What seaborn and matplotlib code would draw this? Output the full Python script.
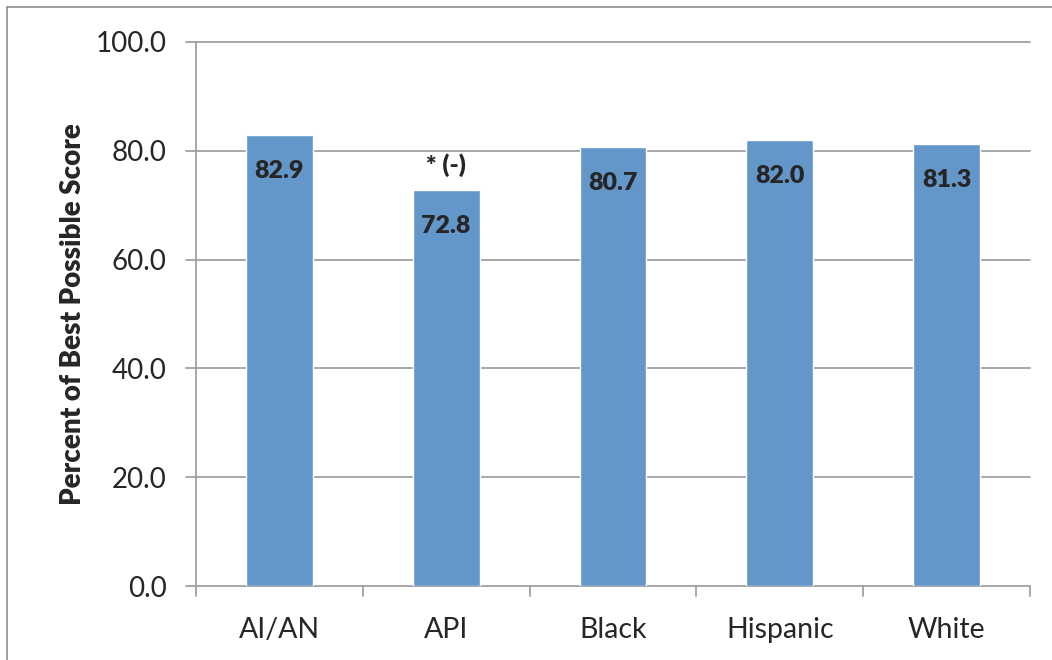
import matplotlib
matplotlib.use("Agg")
from matplotlib import pyplot as plt
from matplotlib.patches import Rectangle
import seaborn as sns
import pandas as pd

# datos
grupos = ["AI/AN", "API", "Black", "Hispanic", "White"]
valores = [82.9, 72.8, 80.7, 82.0, 81.3]
notas = ["", "* (-)", "", "", ""]

df = pd.DataFrame({"grupo": grupos, "valor": valores})

sns.set_style("white")
plt.rcParams['font.family'] = ['Lato', 'DejaVu Sans']

fig = plt.figure(figsize=(10.52, 6.6), dpi=100)
ax = fig.add_axes([0.1863, 0.1121, 0.7927, 0.8243])

sns.barplot(data=df, x="grupo", y="valor", color="#6497C9", width=0.4,
            saturation=1, ax=ax, zorder=3)

ax.set_ylim(0, 100)
ax.set_xlim(-0.5, len(grupos) - 0.5)
ax.set_yticks([0, 20, 40, 60, 80, 100])
ax.set_yticklabels([f"{v:.1f}" for v in [0, 20, 40, 60, 80, 100]], fontsize=20)
ax.tick_params(axis="x", labelsize=20.5, length=0, pad=22)
ax.tick_params(axis="y", length=0, pad=21)

# gridlines que salen un poco a la izquierda del eje
for v in [0, 20, 40, 60, 80, 100]:
    ax.plot([-0.56, len(grupos) - 0.5], [v, v], color="#A0A0A0", lw=1.3,
            clip_on=False, zorder=1)
# marcas entre categorias
for i in range(len(grupos) + 1):
    ax.plot([i - 0.5, i - 0.5], [0, -1.9], color="#A0A0A0", lw=1.3,
            clip_on=False, zorder=1)

for s in ["top", "right", "bottom"]:
    ax.spines[s].set_visible(False)
ax.spines["left"].set_color("#A0A0A0")
ax.spines["left"].set_linewidth(1.3)

ax.set_xlabel("")
ax.set_ylabel("Percent of Best Possible Score", fontsize=20, fontweight="heavy",
              labelpad=7)

for i, (v, n) in enumerate(zip(valores, notas)):
    ax.annotate(f"{v:.1f}", (i, v), xytext=(0, -18), textcoords="offset points",
                ha="center", va="top", fontsize=18, fontweight="heavy", zorder=4)
    if n:
        ax.annotate(n, (i, v), xytext=(0, 9), textcoords="offset points",
                    ha="center", va="bottom", fontsize=18, fontweight="heavy")

# borde exterior del grafico
fig.patches.append(Rectangle((7 / 1052, -0.1), 1.2, 1 - 7 / 660 + 0.1,
                             transform=fig.transFigure, fill=False,
                             edgecolor="#8C8C8C", lw=1.2))

fig.savefig("out.png", dpi=100)
